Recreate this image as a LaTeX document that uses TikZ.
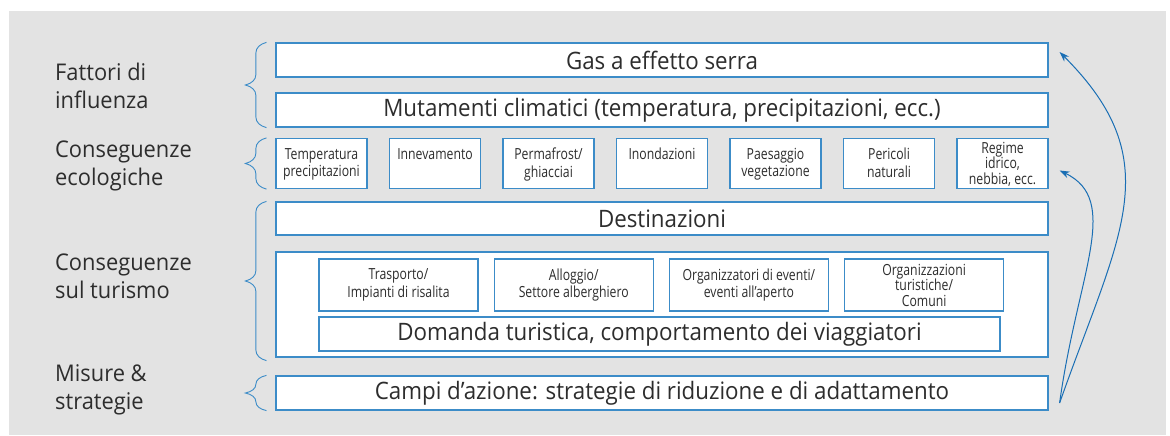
\documentclass[tikz,border=0pt]{standalone}
\usepackage{fontspec}
\setmainfont{Open Sans}
\newfontfamily\boxfont[FakeStretch=0.93]{Open Sans}
\newfontfamily\smallfont[FakeStretch=0.8]{Open Sans}
\newfontfamily\sidefont[FakeStretch=0.95]{Open Sans}
\usepackage{tikz}
\usetikzlibrary{arrows.meta,decorations.pathreplacing,positioning}
\definecolor{boxblue}{RGB}{60,140,200}
\definecolor{arrowblue}{RGB}{25,110,180}
\definecolor{bggrey}{RGB}{227,227,227}
\definecolor{txtgrey}{RGB}{45,45,45}
\newcommand{\bigtxt}{\fontsize{24pt}{28pt}\boxfont\selectfont}
\newcommand{\smalltxt}{\fontsize{15.3pt}{17.5pt}\smallfont\selectfont}
\newcommand{\sidetxt}{\fontsize{23pt}{28pt}\sidefont\selectfont}

\begin{document}
\begin{tikzpicture}[x=1pt,y=-1pt,
		bigbox/.style={draw=boxblue, fill=white, line width=1.2pt, minimum width=772pt, minimum height=34pt, inner sep=0pt, font=\bigtxt, text=txtgrey},
		ecobox/.style={draw=boxblue, fill=white, line width=1.2pt, minimum width=91pt, minimum height=50pt, inner sep=0pt},
		ecotext/.style={anchor=north, yshift=-10pt, inner sep=0pt, align=center, font=\smalltxt, text=txtgrey},
		turbox/.style={draw=boxblue, fill=white, line width=1.2pt, minimum width=159pt, minimum height=52pt, inner sep=0pt, align=center, font=\smalltxt, text=txtgrey},
		sidelabel/.style={anchor=west, align=left, inner sep=0pt, font=\sidetxt, text=txtgrey},
		brace/.style={decorate, decoration={brace, amplitude=10.5pt, transform={yscale=2}}, draw=boxblue, line width=0.9pt},
		flow/.style={draw=arrowblue, line width=1pt, -{Stealth[length=10pt,width=7pt]}}]
	\useasboundingbox (0,0) rectangle (1170,436);
	\fill[bggrey] (9,11) rectangle (1166,435);

	% fattori di influenza
	\node[bigbox] (gas) at (662,60) {Gas a effetto serra};
	\node[bigbox] (mut) at (662,110) {Mutamenti climatici (temperatura, precipitazioni, ecc.)};

	% conseguenze ecologiche
	\foreach \name/\txt [count=\i from 0] in {temp/{Temperatura\\precipitazioni}, inne/Innevamento, perm/{Permafrost/\\ghiacciai}, inon/Inondazioni, paes/{Paesaggio\\vegetazione}, peri/{Pericoli\\naturali}}
		\node[ecobox, label={[ecotext]north:\txt}] (\name) at (321.5+113.5*\i,163.5) {};
	\node[ecobox, label={[ecotext, yshift=6pt, font=\fontsize{15.3pt}{15.5pt}\smallfont\selectfont]north:{Regime\\idrico,\\nebbia, ecc.}}] (regi) at (1002.5,163.5) {};

	% conseguenze sul turismo
	\node[bigbox, minimum height=33pt] (dest) at (662,218.5) {Destinazioni};
	\node[bigbox, minimum height=105pt] (tur) at (662,304.5) {};
	\node[turbox] (tras) at (398.5,285) {Trasporto/\\Impianti di risalita};
	\node[turbox, right=15pt of tras] (allo) {Alloggio/\\Settore alberghiero};
	\node[turbox, right=15pt of allo] (even) {Organizzatori di eventi/\\eventi all’aperto};
	\node[turbox, right=15pt of even, font=\fontsize{15.3pt}{15.5pt}\smallfont\selectfont] (orga) {Organizzazioni\\turistiche/\\Comuni};
	\node[bigbox, minimum width=681pt] (dom) at (659.5,334) {Domanda turistica, comportamento dei viaggiatori};

	% misure
	\node[bigbox] (campi) at (662,393) {Campi d’azione: strategie di riduzione e di adattamento};

	% braces and labels
	\draw[brace] ([xshift=-9pt]mut.south west) -- ([xshift=-9pt]gas.north west);
	\draw[brace] ([xshift=-9pt]temp.south west) -- ([xshift=-9pt]temp.north west);
	\draw[brace] ([xshift=-9pt,yshift=-3pt]tur.south west) -- ([xshift=-9pt]dest.north west);
	\draw[brace] ([xshift=-9pt]campi.south west) -- ([xshift=-9pt]campi.north west);
	\node[sidelabel] (fatt) at (55,86) {Fattori di\\influenza};
	\node[sidelabel] (ecol) at (55,166) {Conseguenze\\ecologiche};
	\node[sidelabel] (turi) at (55,276) {Conseguenze\\sul turismo};
	\node[sidelabel] (misu) at (55,390) {Misure \&\\strategie};

	% feedback arrows
	\coordinate (src) at ([xshift=11pt,yshift=-10pt]campi.east);
	\coordinate (gastip) at ([xshift=11pt,yshift=8pt]gas.east);
	\coordinate (regtip) at ([xshift=11pt,yshift=-7pt]regi.east);
	\draw[flow] (src) .. controls +(60,-170) and +(110,110) .. (gastip);
	\draw[flow] (src) .. controls +(18,-130) and +(62,30) .. (regtip);
\end{tikzpicture}
\end{document}
